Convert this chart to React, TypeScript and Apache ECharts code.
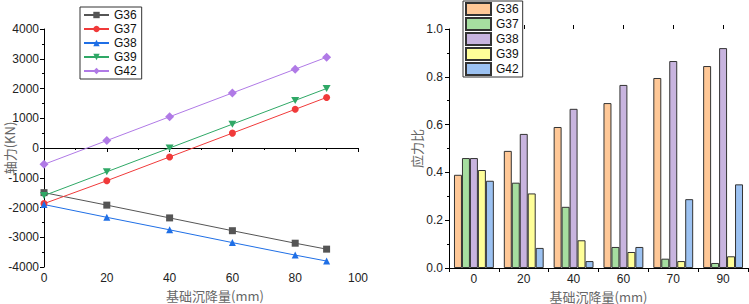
import React, { useEffect, useRef } from "react";
import * as echarts from "echarts";

const xSettle = [0, 20, 40, 60, 80, 90];
const seriesNames = ["G36", "G37", "G38", "G39", "G42"];
const forceG36 = [-1500, -1920, -2350, -2780, -3200, -3400];
const forceG37 = [-1870, -1100, -300, 500, 1300, 1700];
const forceG38 = [-1900, -2330, -2750, -3180, -3600, -3800];
const forceG39 = [-1600, -800, 0, 800, 1600, 2000];
const forceG42 = [-550, 250, 1050, 1850, 2650, 3050];

const barCategories = ["0", "20", "40", "60", "70", "90"];
const ratioG36 = [0.39, 0.49, 0.59, 0.69, 0.795, 0.845];
const ratioG37 = [0.46, 0.357, 0.256, 0.088, 0.039, 0.021];
const ratioG38 = [0.46, 0.561, 0.666, 0.766, 0.866, 0.92];
const ratioG39 = [0.41, 0.312, 0.116, 0.067, 0.029, 0.049];
const ratioG42 = [0.365, 0.084, 0.029, 0.088, 0.288, 0.35];

const lineColors = ["#555555", "#f03a3a", "#1f6fe6", "#2fa866", "#b07ae6"];
const lineSymbols = ["rect", "circle", "triangle", "path://M0,0 L10,0 L5,9 Z", "diamond"];
const barColors = ["#ffc897", "#a6dea0", "#c8b4df", "#ffff99", "#9cc2f2"];

const forces = [forceG36, forceG37, forceG38, forceG39, forceG42];
const ratios = [ratioG36, ratioG37, ratioG38, ratioG39, ratioG42];

const labelFont = "'Liberation Sans', Arial, sans-serif";
const nameFont = "'Noto Sans CJK SC', sans-serif";

export default function App() {
  const ref = useRef<HTMLDivElement>(null);
  useEffect(() => {
    if (!ref.current) return;
    const chart = echarts.init(ref.current, null, { renderer: "svg" });
    const axisLine = { show: true, lineStyle: { color: "#000", width: 1 } };
    const axisLabel = { color: "#222", fontSize: 12, fontFamily: labelFont };
    const nameStyle = { color: "#666", fontSize: 13, lineHeight: 14, fontFamily: nameFont };

    const lineSeries = seriesNames.map((n, i) => ({
      type: "line",
      name: n,
      xAxisIndex: 0,
      yAxisIndex: 0,
      data: xSettle.map((x, j) => [x, forces[i][j]]),
      symbol: lineSymbols[i],
      symbolSize: i === 3 ? [8, 7] : i === 4 ? 9 : 7,
      lineStyle: { color: lineColors[i], width: 1 },
      itemStyle: { color: lineColors[i] },
    }));

    const barSeries = seriesNames.map((n, i) => ({
      type: "bar",
      name: n + " ",
      xAxisIndex: 1,
      yAxisIndex: 1,
      data: ratios[i],
      barGap: "0%",
      barCategoryGap: "20%",
      itemStyle: { color: barColors[i], borderColor: "#333", borderWidth: 1 },
    }));

    chart.setOption({
      animation: false,
      grid: [
        { left: 44, top: 29, width: 314, height: 238, outerBoundsMode: "none", containLabel: false },
        { left: 449, top: 29, width: 299, height: 239, outerBoundsMode: "none", containLabel: false },
      ],
      legend: [
        {
          data: seriesNames,
          orient: "vertical",
          left: 80,
          top: 7,
          itemWidth: 25,
          itemHeight: 8,
          itemGap: 0,
          padding: [1, 5, 1, 3],
          borderColor: "#333",
          borderWidth: 1,
          textStyle: { color: "#111", fontSize: 12, lineHeight: 14, fontFamily: labelFont },
        },
        {
          data: seriesNames.map((n) => n + " "),
          formatter: (name: string) => name.trim(),
          orient: "vertical",
          left: 463,
          top: 1,
          icon: "rect",
          itemWidth: 25,
          itemHeight: 12,
          itemGap: 1,
          padding: [1, 4, 1, 2],
          borderColor: "#333",
          borderWidth: 1,
          textStyle: { color: "#111", fontSize: 12, lineHeight: 13, fontFamily: labelFont },
        },
      ],
      xAxis: [
        {
          type: "value",
          gridIndex: 0,
          min: 0,
          max: 100,
          interval: 20,
          name: "基础沉降量(mm)",
          nameLocation: "middle",
          nameGap: 21,
          nameMoveOverlap: false,
          nameTextStyle: { ...nameStyle, padding: [0, 0, 0, 28] },
          axisLine,
          axisTick: { show: true, length: 4, lineStyle: { color: "#000" } },
          minorTick: { show: true, splitNumber: 2, length: 2, lineStyle: { color: "#000" } },
          splitLine: { show: false },
          axisLabel: { ...axisLabel, margin: 5, formatter: (v: number) => String(v) },
        },
        {
          type: "category",
          gridIndex: 1,
          data: barCategories,
          name: "基础沉降量(mm)",
          nameLocation: "middle",
          nameGap: 21,
          nameMoveOverlap: false,
          nameTextStyle: nameStyle,
          axisLine,
          axisTick: { show: true, length: 4, lineStyle: { color: "#000" } },
          splitLine: { show: false },
          axisLabel: { ...axisLabel, margin: 5 },
        },
        {
          type: "category",
          gridIndex: 1,
          data: barCategories,
          axisLine: { show: false },
          axisTick: { show: true, alignWithLabel: true, length: 4, lineStyle: { color: "#000" } },
          axisLabel: { show: false },
          splitLine: { show: false },
        },
      ],
      yAxis: [
        {
          type: "value",
          gridIndex: 0,
          min: -4000,
          max: 4000,
          interval: 1000,
          name: "轴力(KN)",
          nameLocation: "middle",
          nameGap: 28,
          nameMoveOverlap: false,
          nameTextStyle: nameStyle,
          axisLine,
          axisTick: { show: true, length: 4, lineStyle: { color: "#000" } },
          minorTick: { show: true, splitNumber: 2, length: 2, lineStyle: { color: "#000" } },
          splitLine: { show: false },
          axisLabel: { ...axisLabel, margin: 5, formatter: (v: number) => String(v) },
        },
        {
          type: "value",
          gridIndex: 1,
          min: 0,
          max: 1,
          interval: 0.2,
          name: "应力比",
          nameLocation: "middle",
          nameGap: 26,
          nameMoveOverlap: false,
          nameTextStyle: nameStyle,
          axisLine,
          axisTick: { show: true, length: 4, lineStyle: { color: "#000" } },
          minorTick: { show: true, splitNumber: 2, length: 2, lineStyle: { color: "#000" } },
          splitLine: { show: false },
          axisLabel: { ...axisLabel, margin: 6, formatter: (v: number) => v.toFixed(1) },
        },
      ],
      series: [...lineSeries, ...barSeries],
    });
    return () => chart.dispose();
  }, []);
  return (
    <div
      ref={ref}
      style={{ position: "fixed", left: 0, top: 0, width: 749, height: 304, background: "#fff" }}
    />
  );
}
